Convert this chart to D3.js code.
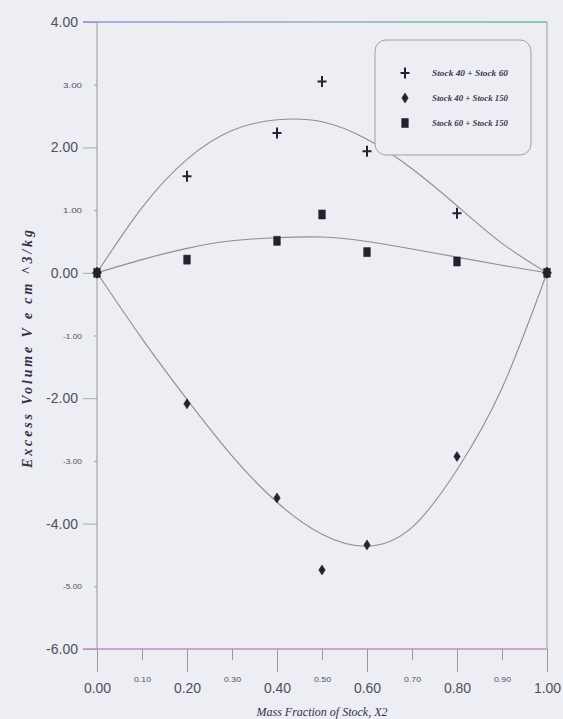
<!DOCTYPE html>
<html>
<head>
<meta charset="utf-8">
<script src="https://cdn.jsdelivr.net/npm/d3@7"></script>
<style>
  body { margin: 0; background: #eceef3; }
  svg { display: block; }
</style>
</head>
<body>
<div id="chart"></div>
<script>
// measured points
var massFrac = [0, 0.2, 0.4, 0.5, 0.6, 0.8, 1.0];
var stock40_60 = [0, 1.54, 2.23, 3.05, 1.94, 0.95, 0];
var stock40_150 = [0, -2.09, -3.59, -4.74, -4.34, -2.93, 0];
var stock60_150 = [0, 0.21, 0.51, 0.93, 0.33, 0.18, 0];

// fitted curves
var fitX = [0, 0.1, 0.2, 0.3, 0.4, 0.5, 0.6, 0.7, 0.8, 0.9, 1.0];
var fit40_60 = [0, 1.04, 1.81, 2.27, 2.44, 2.41, 2.13, 1.66, 1.07, 0.47, 0];
var fit40_150 = [0, -1.05, -2.02, -2.92, -3.66, -4.17, -4.36, -4.06, -3.14, -1.84, 0];
var fit60_150 = [0, 0.21, 0.39, 0.51, 0.56, 0.57, 0.50, 0.38, 0.25, 0.12, 0];

var xMajor = [0, 0.2, 0.4, 0.6, 0.8, 1.0];
var xMinor = [0.1, 0.3, 0.5, 0.7, 0.9];
var yMajor = [4, 2, 0, -2, -4, -6];
var yMinor = [3, 1, -1, -3, -5];

var legendNames = ["Stock 40 + Stock 60", "Stock 40 + Stock 150", "Stock 60 + Stock 150"];

var width = 563, height = 719;

var svg = d3.select("#chart").append("svg")
  .attr("width", width)
  .attr("height", height);

var x = d3.scaleLinear().domain([0, 1]).range([97, 547]);
var y = d3.scaleLinear().domain([-6, 4]).range([649, 22]);

var fmt = function(d){ return d.toFixed(2); };
var ink = "#50505c";

// y axis, major + minor
var yAx = svg.append("g").attr("transform", "translate(" + x(0) + ",0)")
  .call(d3.axisLeft(y).tickValues(yMajor).tickSize(14).tickPadding(5).tickFormat(fmt));
yAx.selectAll("text").style("font", "14px 'Liberation Sans', Arial").attr("fill", ink);
yAx.selectAll("line").attr("stroke", "#8fb89c");

var yAx2 = svg.append("g").attr("transform", "translate(" + x(0) + ",0)")
  .call(d3.axisLeft(y).tickValues(yMinor).tickSize(3).tickPadding(12).tickFormat(fmt));
yAx2.selectAll("text").style("font", "8px 'Liberation Sans', Arial").attr("fill", ink)
  .attr("textLength", 19).attr("lengthAdjust", "spacingAndGlyphs");
yAx2.selectAll("line").attr("stroke", "#999");
svg.selectAll(".domain").remove();

// x axis, major + minor
var xAx = svg.append("g").attr("transform", "translate(0," + y(-6) + ")")
  .call(d3.axisBottom(x).tickValues(xMajor).tickSize(23).tickPadding(11).tickFormat(fmt));
xAx.selectAll("text").style("font", "14px 'Liberation Sans', Arial").attr("fill", ink);
xAx.selectAll("line").attr("stroke", "#999");

var xAx2 = svg.append("g").attr("transform", "translate(0," + y(-6) + ")")
  .call(d3.axisBottom(x).tickValues(xMinor).tickSize(11).tickPadding(16).tickFormat(fmt));
xAx2.selectAll("text").style("font", "8px 'Liberation Sans', Arial").attr("fill", ink)
  .attr("textLength", 17).attr("lengthAdjust", "spacingAndGlyphs");
xAx2.selectAll("line").attr("stroke", "#999");
svg.selectAll(".domain").remove();

// frame: side verticals, coloured top and bottom rules
svg.append("line").attr("x1", x(0)).attr("x2", x(0)).attr("y1", y(4)).attr("y2", y(-6))
  .attr("stroke", "#999");
svg.append("line").attr("x1", x(1)).attr("x2", x(1)).attr("y1", y(4)).attr("y2", y(-6))
  .attr("stroke", "#999");

var defs = svg.append("defs");
var grad = defs.append("linearGradient").attr("id", "rule")
  .attr("x1", "0%").attr("x2", "100%");
grad.append("stop").attr("offset", "0%").attr("stop-color", "#9a90d8");
grad.append("stop").attr("offset", "50%").attr("stop-color", "#8fb0c8");
grad.append("stop").attr("offset", "100%").attr("stop-color", "#6cc08f");
var grad2 = defs.append("linearGradient").attr("id", "rule2")
  .attr("x1", "0%").attr("x2", "100%");
grad2.append("stop").attr("offset", "0%").attr("stop-color", "#c889c0");
grad2.append("stop").attr("offset", "100%").attr("stop-color", "#d48ab8");

svg.append("rect").attr("x", x(0) - 14).attr("y", y(4) - 0.75)
  .attr("width", x(1) - x(0) + 14).attr("height", 1.5).attr("fill", "url(#rule)");
svg.append("rect").attr("x", x(0) - 14).attr("y", y(-6) - 0.75)
  .attr("width", x(1) - x(0) + 14).attr("height", 1.5).attr("fill", "url(#rule2)");

// fitted curves
var line = d3.line()
  .x(function(d){ return x(d[0]); })
  .y(function(d){ return y(d[1]); })
  .curve(d3.curveNatural);

[fit40_60, fit40_150, fit60_150].forEach(function(f){
  svg.append("path")
    .datum(fitX.map(function(v, i){ return [v, f[i]]; }))
    .attr("d", line)
    .attr("fill", "none")
    .attr("stroke", "#8e8e96")
    .attr("stroke-width", 1.1);
});

// markers
var symbols = {
  plus: "M-4.5,0H4.5M0,-5.5V5.5",
  diamond: "M0,-5L3.2,0L0,5L-3.2,0Z",
  square: "M-3.3,-4.5H3.3V4.5H-3.3Z"
};
var markInk = "#23232e";

function drawMarks(vals, kind) {
  svg.append("g").selectAll("path")
    .data(massFrac.map(function(v, i){ return [v, vals[i]]; }))
    .join("path")
    .attr("transform", function(d){ return "translate(" + x(d[0]) + "," + y(d[1]) + ")"; })
    .attr("d", symbols[kind])
    .attr("fill", kind == "plus" ? "none" : markInk)
    .attr("stroke", markInk)
    .attr("stroke-width", kind == "plus" ? 2 : 0.6);
}
drawMarks(stock60_150, "square");
drawMarks(stock40_150, "diamond");
drawMarks(stock40_60, "plus");

// legend
var lg = svg.append("g");
lg.append("rect").attr("x", 375).attr("y", 40).attr("width", 156).attr("height", 115)
  .attr("rx", 11).attr("fill", "#eceef3").attr("stroke", "#a0a0aa").attr("stroke-width", 1);
["plus", "diamond", "square"].forEach(function(k, i){
  lg.append("path").attr("transform", "translate(405," + (73 + i * 25) + ")")
    .attr("d", symbols[k])
    .attr("fill", k == "plus" ? "none" : markInk)
    .attr("stroke", markInk)
    .attr("stroke-width", k == "plus" ? 2 : 0.6);
  lg.append("text").attr("x", 432).attr("y", 76 + i * 25)
    .attr("textLength", 76).attr("lengthAdjust", "spacingAndGlyphs")
    .style("font", "italic bold 7.5px 'Liberation Serif', serif")
    .attr("fill", "#3a3a4a")
    .text(legendNames[i]);
});

// titles
svg.append("text").attr("x", 322).attr("y", 716).attr("text-anchor", "middle")
  .style("font", "italic 12px 'Liberation Serif', serif").attr("fill", "#333344")
  .text("Mass Fraction of Stock, X2");

svg.append("text").attr("transform", "translate(32,349) rotate(-90)")
  .attr("text-anchor", "middle")
  .attr("textLength", 238).attr("lengthAdjust", "spacing")
  .style("font", "italic bold 14px 'Liberation Serif', serif").attr("fill", "#333344")
  .text("Excess Volume V e cm ^3/kg");
</script>
</body>
</html>
